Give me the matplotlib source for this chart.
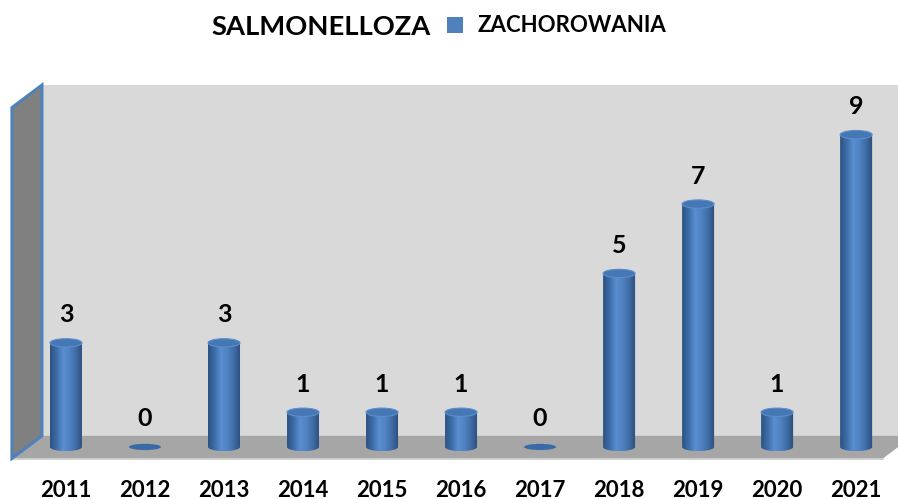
import numpy as np
import matplotlib
matplotlib.use("Agg")
import matplotlib.pyplot as plt
from matplotlib.patches import Polygon, Ellipse, Rectangle
from matplotlib.colors import LinearSegmentedColormap

years = ["2011", "2012", "2013", "2014", "2015", "2016", "2017", "2018", "2019", "2020", "2021"]
cases = [3, 0, 3, 1, 1, 1, 0, 5, 7, 1, 9]
title = "SALMONELLOZA"
series_name = "ZACHOROWANIA"

FONT = "Lato"
BLUE = "#4F81BD"

fig = plt.figure(figsize=(8.98, 4.99), dpi=100)
ax = fig.add_axes([0, 0, 1, 1])
ax.set_xlim(-0.835, 10.53)
ax.set_ylim(-1.50, 12.88)
ax.axis("off")

# 3D frame: back wall, floor, left wall
wall_top = 10.43
floor_back = 0.32
floor_front = -0.33
dx = 0.38
dy = floor_back - floor_front
x_back_left = -0.304
x_front_left = x_back_left - dx
x_right = 10.6
x_front_right = 10.34

ax.add_patch(Polygon([[x_back_left, floor_back], [x_right, floor_back],
                      [x_right, wall_top], [x_back_left, wall_top]],
                     closed=True, facecolor="#D9D9D9", edgecolor="none", zorder=1))
ax.add_patch(Polygon([[x_back_left, floor_back], [x_right, floor_back],
                      [x_front_right + dx, floor_back], [x_front_right, floor_front],
                      [x_front_left, floor_front]],
                     closed=True, facecolor="#A6A6A6", edgecolor="none", zorder=1))
ax.plot([x_front_left, x_front_right], [floor_front - 0.03, floor_front - 0.03],
        color="#C8C8C8", lw=1.2, zorder=1.5)
ax.add_patch(Polygon([[x_front_left, floor_front], [x_back_left, floor_back],
                      [x_back_left, wall_top], [x_front_left, wall_top - dy]],
                     closed=True, facecolor="#808080", edgecolor=BLUE, lw=2.2,
                     joinstyle="miter", zorder=2))

# cylinders
w = 0.405
eh = 0.24
cmap = LinearSegmentedColormap.from_list(
    "cyl", ["#2C5283", "#3D6DA8", "#5A8ED0", "#4F82C2", "#3E6BA3", "#2A4D7C"])
grad = np.linspace(0, 1, 200).reshape(1, -1)

for i, v in enumerate(cases):
    x0, x1 = i - w / 2, i + w / 2
    if v > 0:
        t = np.linspace(np.pi, 2 * np.pi, 60)
        bottom = np.column_stack([i + (w / 2) * np.cos(t), (eh / 2) * np.sin(t)])
        pts = np.vstack([[[x0, v]], bottom, [[x1, v]]])
        clip = Polygon(pts, closed=True, facecolor="none", edgecolor="none")
        ax.add_patch(clip)
        im = ax.imshow(grad, cmap=cmap, aspect="auto",
                       extent=[x0, x1, -eh / 2, v], zorder=3, interpolation="bilinear")
        im.set_clip_path(clip)
        ax.add_patch(Ellipse((i, v), w, eh, facecolor="#4677B5",
                             edgecolor="#5D8DCC", lw=0.8, zorder=4))
    else:
        ax.add_patch(Ellipse((i, v), w, eh * 0.75, facecolor="#3A6AA5",
                             edgecolor="none", zorder=4))
    ax.annotate(str(v), (i, v), xytext=(0, 28), textcoords="offset pixels",
                ha="center", va="center", fontsize=18, fontweight="bold",
                family=FONT, color="black", zorder=5)

# category labels
trans = ax.get_xaxis_transform()
for i, yr in enumerate(years):
    ax.text(i, 0.018, yr, transform=trans, ha="center", va="center",
            fontsize=16, fontweight="bold", family=FONT, color="black")

# title + legend
fig.text(431 / 898, 1 - 27 / 499, title, ha="right", va="center",
         fontsize=19.7, fontweight="bold", family=FONT, color="black")
fig.patches.append(Rectangle((447 / 898, 1 - 33 / 499), 16 / 898, 16 / 499,
                             transform=fig.transFigure, facecolor=BLUE,
                             edgecolor="none"))
fig.text(477 / 898, 1 - 26 / 499, series_name, ha="left", va="center",
         fontsize=16, fontweight="bold", family=FONT, color="black")

fig.savefig("out.png", dpi=100, facecolor="white")
